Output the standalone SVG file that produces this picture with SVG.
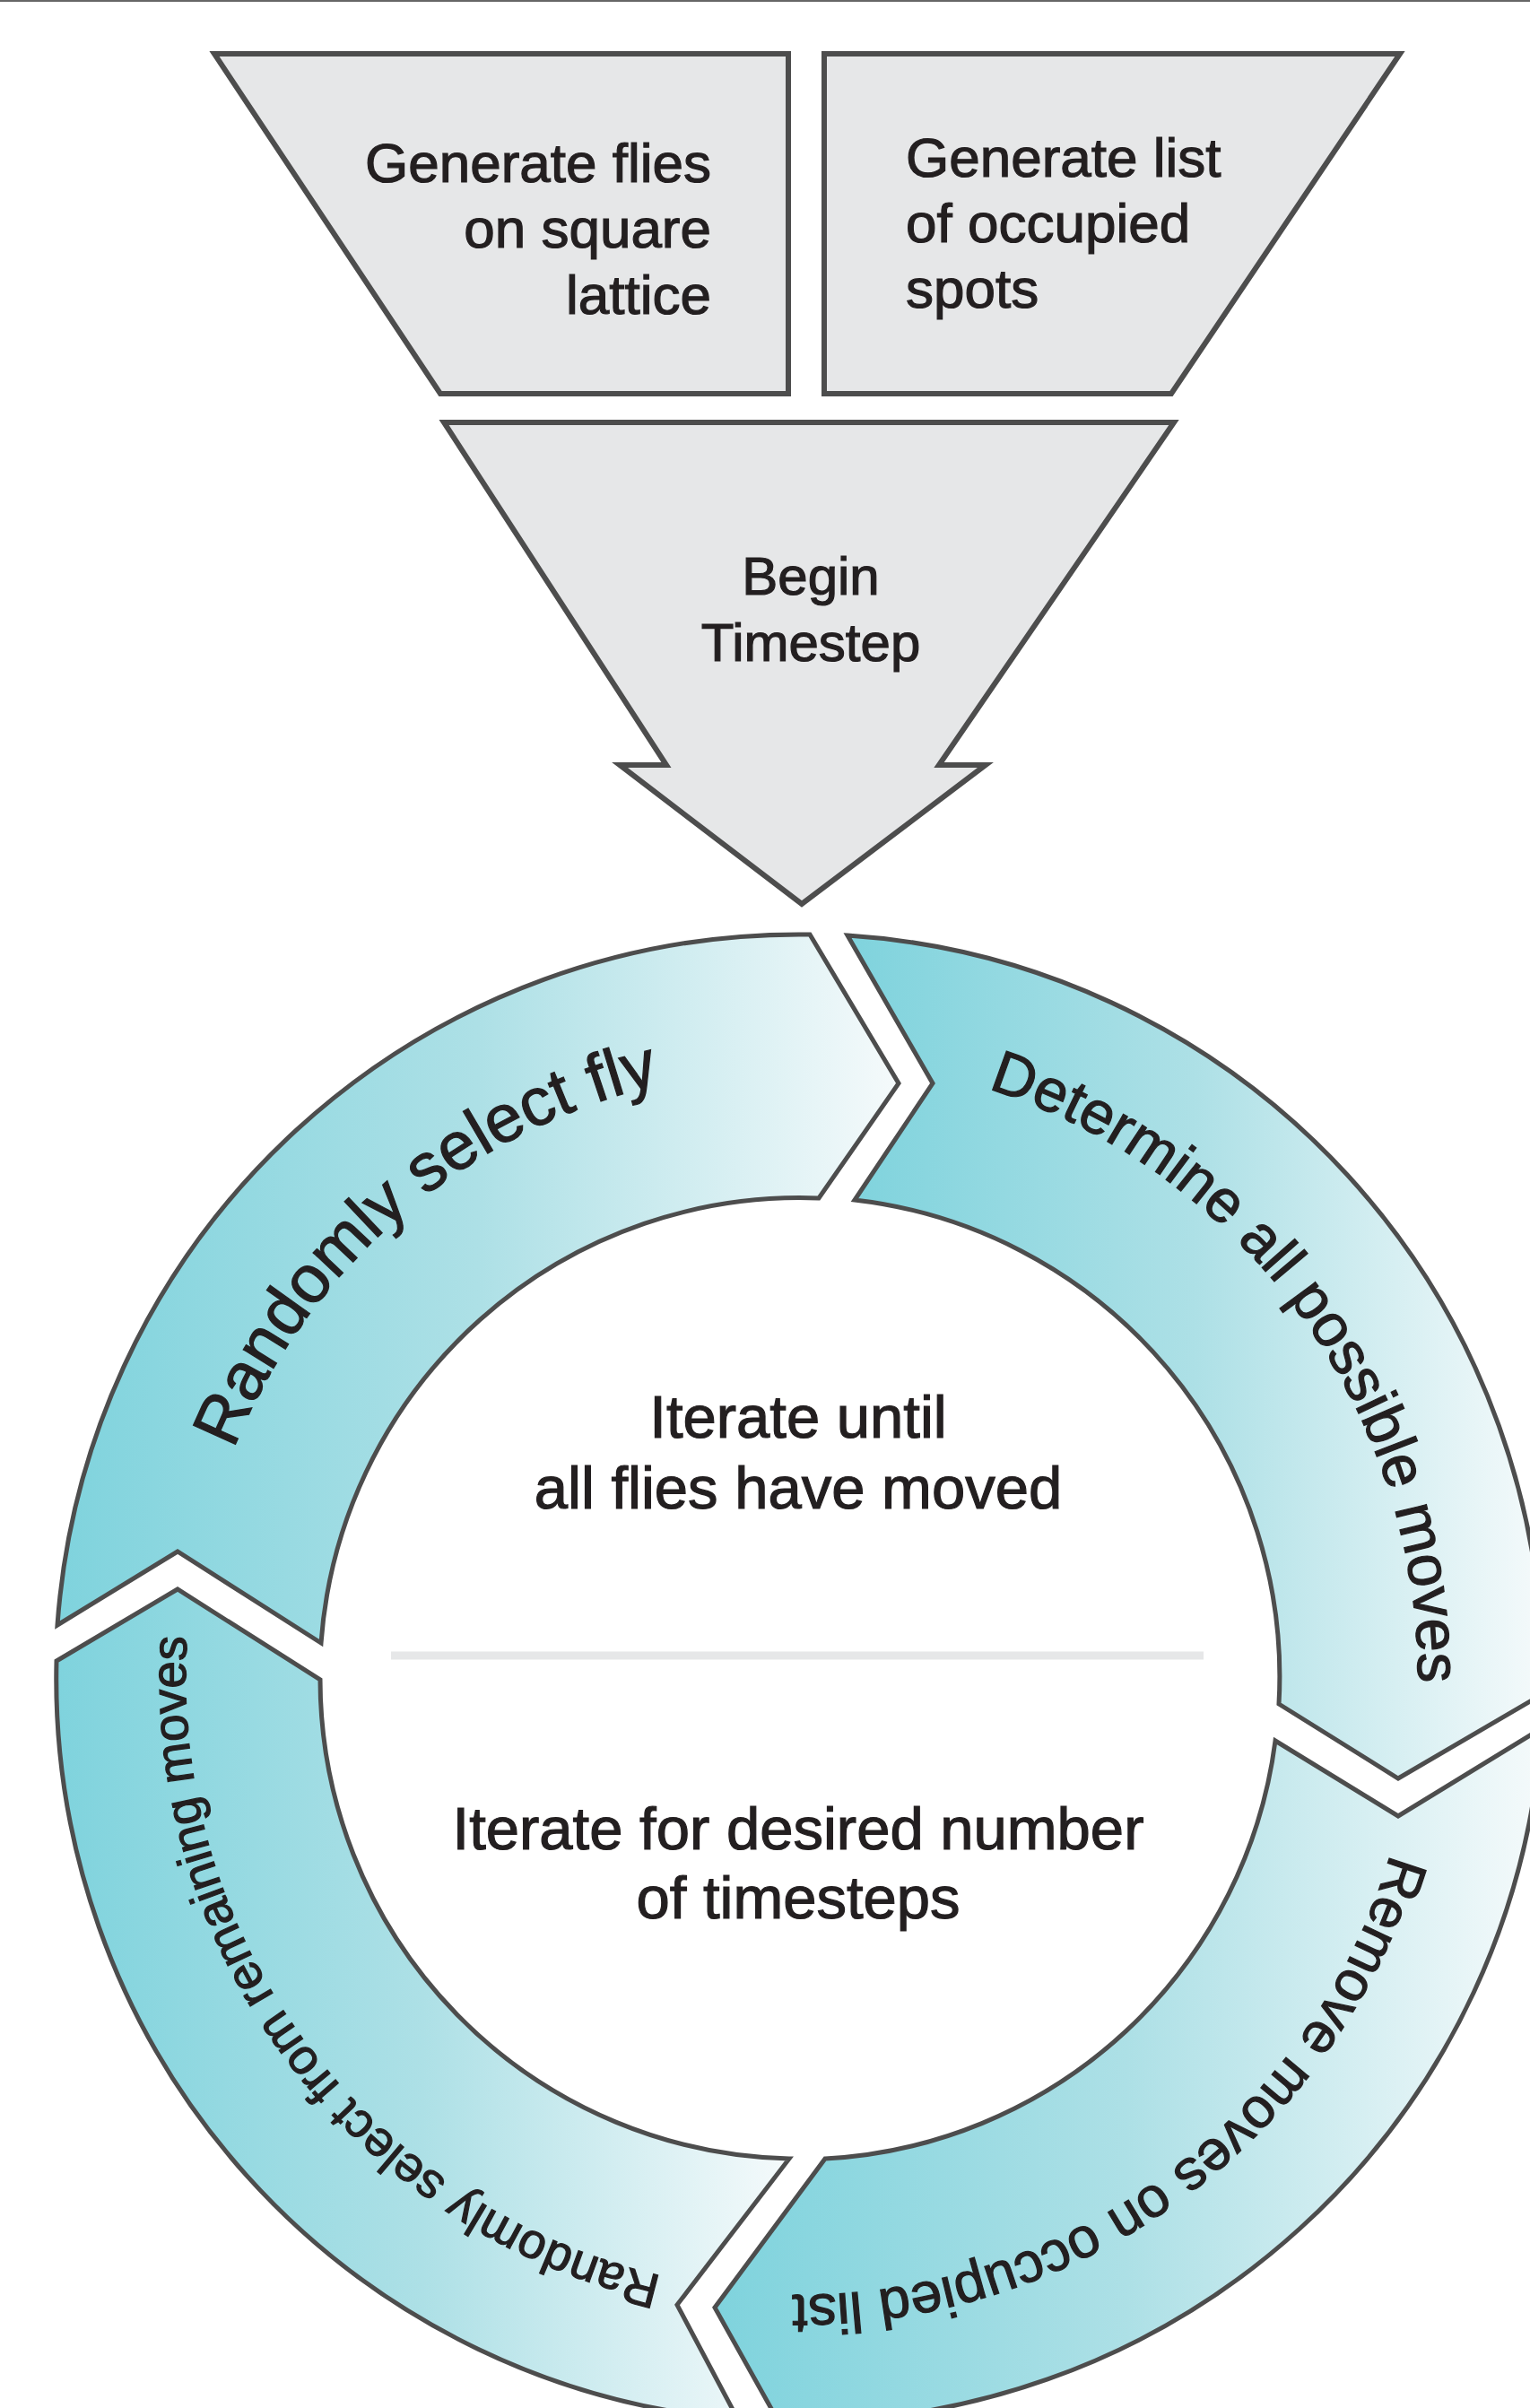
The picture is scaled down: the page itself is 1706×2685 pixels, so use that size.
<svg xmlns="http://www.w3.org/2000/svg" width="1706" height="2685" viewBox="0 0 1706 2685">
<defs>
<linearGradient id="teal" x1="0" y1="0" x2="1" y2="0">
<stop offset="0" stop-color="#7fd3dd"/>
<stop offset="0.5" stop-color="#ade0e6"/>
<stop offset="1" stop-color="#f5fafb"/>
</linearGradient>
<path id="arc1" d="M222.6,1996.1 A680,680 0 0 1 1116.9,1229.6"/>
<path id="arc2" d="M820.1,1184.7 A690,690 0 0 1 1520.9,2152.7"/>
<path id="arc3" d="M1574.7,1794.3 A688,688 0 0 1 615.5,2501.4"/>
<path id="arc4" d="M969.6,2550.5 A684,684 0 0 1 263.3,1599.4"/>
</defs>
<style>
.box{fill:#e6e7e8;stroke:#4d4d4d;stroke-width:6;stroke-linejoin:miter}
.seg{fill:url(#teal);stroke:#4d4d4d;stroke-width:5;stroke-linejoin:miter}
.t{font-family:"Liberation Sans",Arial,sans-serif;fill:#231f20;stroke:#231f20;stroke-width:1.2}
</style>
<rect width="1706" height="2685" fill="#ffffff"/>
<line x1="0" y1="1" x2="1706" y2="1" stroke="#666666" stroke-width="2"/>

<g id="node-generate-flies">
<polygon class="box" points="239,60 879,60 879,439 491,439"/>
<text class="t" font-size="62" text-anchor="end"><tspan x="793" y="203">Generate flies</tspan><tspan x="793" y="276">on square</tspan><tspan x="793" y="350">lattice</tspan></text>
</g>
<g id="node-occupied-list">
<polygon class="box" points="919,60 1561,60 1306,439 919,439"/>
<text class="t" font-size="62"><tspan x="1010" y="197">Generate list</tspan><tspan x="1010" y="270">of occupied</tspan><tspan x="1010" y="343">spots</tspan></text>
</g>
<g id="node-begin-timestep">
<polygon class="box" points="495,471 1309,471 1047,853 1099,853 894,1008 691,853 743,853"/>
<text class="t" font-size="60" text-anchor="middle"><tspan x="904" y="663">Begin</tspan><tspan x="904" y="737">Timestep</tspan></text>
</g>

<g id="node-randomly-select-fly">
<path class="seg" d="M64,1812 A829,829 0 0 1 903,1042 L1002,1208 L913,1336 A535,535 0 0 0 358,1832 L198,1730 Z"/>
<text class="t" font-size="75" text-anchor="middle"><textPath href="#arc1" startOffset="50%">Randomly select fly</textPath></text>
</g>
<g id="node-determine-moves">
<path class="seg" d="M945,1043 A829,829 0 0 1 1720,1889 L1559,1983 L1426,1900 A535,535 0 0 0 953,1338 L1040,1208 Z"/>
<text class="t" font-size="67" text-anchor="middle"><textPath href="#arc2" startOffset="50%">Determine all possible moves</textPath></text>
</g>
<g id="node-remove-moves">
<path class="seg" d="M1719,1927 A829,829 0 0 1 868,2700 L797,2573 L920,2407 A535,535 0 0 0 1422,1941 L1559,2025 Z"/>
<text class="t" font-size="63" text-anchor="middle"><textPath href="#arc3" startOffset="50%">Remove moves on occupied list</textPath></text>
</g>
<g id="node-select-remaining">
<path class="seg" d="M823,2698 A829,829 0 0 1 63,1852 L198,1772 L357,1873 A535,535 0 0 0 880,2407 L755,2570 Z"/>
<text class="t" font-size="55" text-anchor="middle"><textPath href="#arc4" startOffset="50%">Randomly select from remaining moves</textPath></text>
</g>

<g id="node-center">
<text class="t" font-size="67" text-anchor="middle"><tspan x="890" y="1603">Iterate until</tspan><tspan x="890" y="1682">all flies have moved</tspan></text>
<line x1="436" y1="1846" x2="1342" y2="1846" stroke="#e6e7e8" stroke-width="9"/>
<text class="t" font-size="67" text-anchor="middle"><tspan x="890" y="2062">Iterate for desired number</tspan><tspan x="890" y="2139">of timesteps</tspan></text>
</g>
</svg>
